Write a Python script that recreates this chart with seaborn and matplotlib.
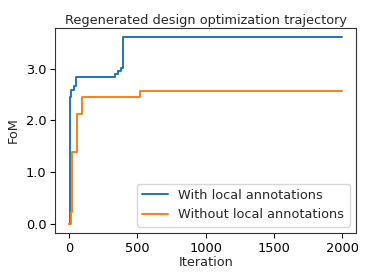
import numpy as np
import pandas as pd
import matplotlib
matplotlib.use("Agg")
import matplotlib.pyplot as plt
import seaborn as sns

# step points (iteration where the best FoM improves)
iter_with = [0, 5, 18, 35, 52, 280, 340, 357, 377, 397, 2000]
fom_with = [0.0, 2.45, 2.59, 2.66, 2.83, 2.84, 2.90, 2.95, 3.02, 3.61, 3.61]

iter_without = [0, 13, 23, 60, 96, 517, 2000]
fom_without = [0.0, 0.22, 1.38, 2.12, 2.45, 2.56, 2.56]

sns.set_style("white")
plt.rcParams['font.family'] = ['DejaVu Sans']

fig = plt.figure(figsize=(3.74, 2.8), dpi=100)
ax = fig.add_axes([0.148, 0.168, 0.804, 0.733])

df1 = pd.DataFrame({"Iteration": iter_with, "FoM": fom_with})
df2 = pd.DataFrame({"Iteration": iter_without, "FoM": fom_without})
sns.lineplot(data=df1, x="Iteration", y="FoM", ax=ax, color="#1f77b4",
             drawstyle="steps-post", label="With local annotations", linewidth=1.4)
sns.lineplot(data=df2, x="Iteration", y="FoM", ax=ax, color="#ff7f0e",
             drawstyle="steps-post", label="Without local annotations", linewidth=1.4)

ax.set_xticks([0, 500, 1000, 1500, 2000])
ax.set_yticks([0.0, 1.0, 2.0, 3.0])
ax.set_yticklabels(["0.0", "1.0", "2.0", "3.0"])
ax.tick_params(axis="both", labelsize=9.3, direction="out", length=3.5, width=0.8,
               left=True, bottom=True, colors="black", pad=3)
for s in ax.spines.values():
    s.set_color("#333333")
    s.set_linewidth(0.8)
ax.set_xlabel("Iteration", fontsize=9.3, labelpad=1)
ax.set_ylabel("FoM", fontsize=9.3)
ax.set_title("Regenerated design optimization trajectory", fontsize=9.3, pad=3)
ax.legend(loc="lower right", fontsize=9.3)

fig.savefig("out.png", dpi=100)
